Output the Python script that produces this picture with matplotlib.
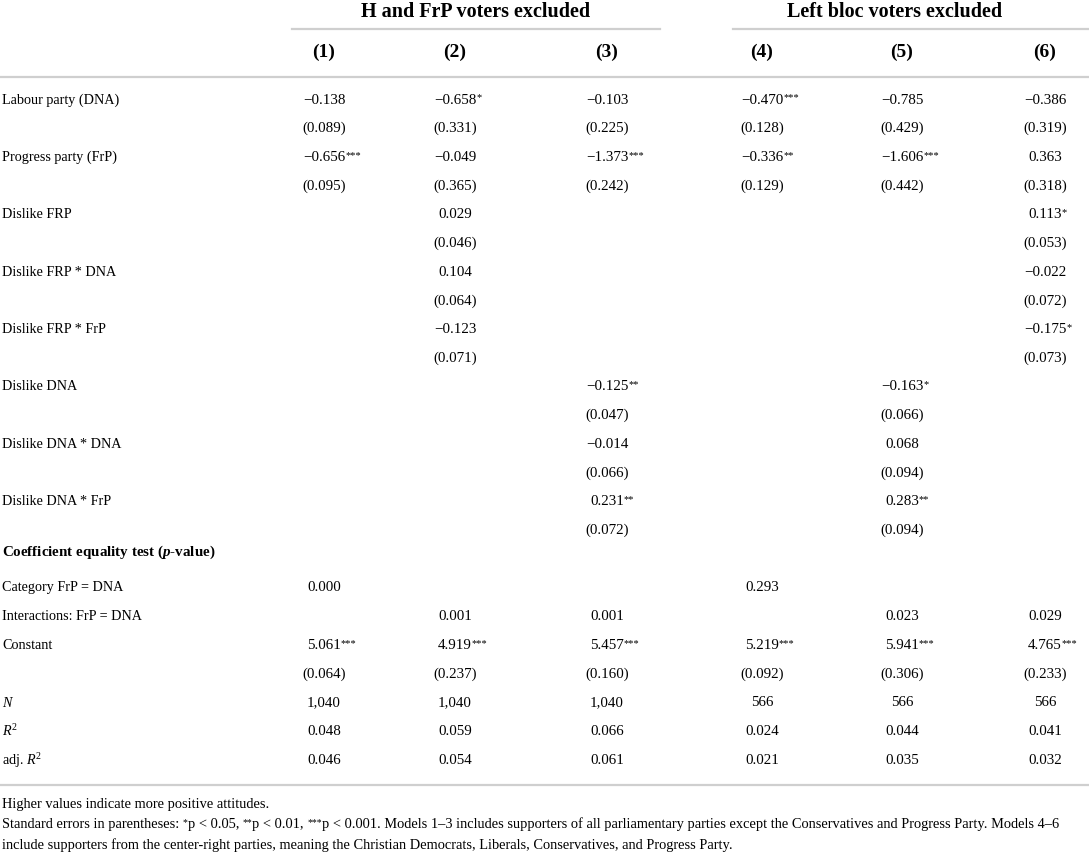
import matplotlib
matplotlib.use("Agg")
import matplotlib.pyplot as plt

plt.rcParams['font.family'] = ['Liberation Serif', 'DejaVu Serif']
plt.rcParams['mathtext.fontset'] = 'custom'
plt.rcParams['mathtext.rm'] = 'Liberation Serif'
plt.rcParams['mathtext.it'] = 'Liberation Serif:italic'
plt.rcParams['mathtext.bf'] = 'Liberation Serif:bold'
plt.rcParams['mathtext.bfit'] = 'Liberation Serif:italic:bold'

group_titles = ["H and FrP voters excluded", "Left bloc voters excluded"]
model_names = ["(1)", "(2)", "(3)", "(4)", "(5)", "(6)"]

coef_labels = ["Labour party (DNA)", "Progress party (FrP)", "Dislike FRP", "Dislike FRP * DNA",
               "Dislike FRP * FrP", "Dislike DNA", "Dislike DNA * DNA", "Dislike DNA * FrP"]
coefs = [
    ["−0.138", "−0.658*", "−0.103", "−0.470***", "−0.785", "−0.386"],
    ["−0.656***", "−0.049", "−1.373***", "−0.336**", "−1.606***", "0.363"],
    ["", "0.029", "", "", "", "0.113*"],
    ["", "0.104", "", "", "", "−0.022"],
    ["", "−0.123", "", "", "", "−0.175*"],
    ["", "", "−0.125**", "", "−0.163*", ""],
    ["", "", "−0.014", "", "0.068", ""],
    ["", "", "0.231**", "", "0.283**", ""],
]
ses = [
    ["(0.089)", "(0.331)", "(0.225)", "(0.128)", "(0.429)", "(0.319)"],
    ["(0.095)", "(0.365)", "(0.242)", "(0.129)", "(0.442)", "(0.318)"],
    ["", "(0.046)", "", "", "", "(0.053)"],
    ["", "(0.064)", "", "", "", "(0.072)"],
    ["", "(0.071)", "", "", "", "(0.073)"],
    ["", "", "(0.047)", "", "(0.066)", ""],
    ["", "", "(0.066)", "", "(0.094)", ""],
    ["", "", "(0.072)", "", "(0.094)", ""],
]

test_title = r"Coefficient equality test ($\mathbfit{p}$-value)"
test_labels = ["Category FrP = DNA", "Interactions: FrP = DNA"]
tests = [
    ["0.000", "", "", "0.293", "", ""],
    ["", "0.001", "0.001", "", "0.023", "0.029"],
]
const = ["5.061***", "4.919***", "5.457***", "5.219***", "5.941***", "4.765***"]
const_se = ["(0.064)", "(0.237)", "(0.160)", "(0.092)", "(0.306)", "(0.233)"]

stat_labels = [r"$\mathit{N}$", r"$\mathit{R}^2$", r"adj. $\mathit{R}^2$"]
stats = [
    ["1,040", "1,040", "1,040", "566", "566", "566"],
    ["0.048", "0.059", "0.066", "0.024", "0.044", "0.041"],
    ["0.046", "0.054", "0.061", "0.021", "0.035", "0.032"],
]

note1 = "Higher values indicate more positive attitudes."
# (text, superscript?) pieces of the second note line
note2 = [("Standard errors in parentheses: ", False), ("*", True), ("p < 0.05, ", False),
         ("**", True), ("p < 0.01, ", False), ("***", True),
         ("p < 0.001. Models 1–3 includes supporters of all parliamentary parties except the "
          "Conservatives and Progress Party. Models 4–6", False)]
note3 = ("include supporters from the center-right parties, meaning the Christian Democrats, "
         "Liberals, Conservatives, and Progress Party.")

W, H = 1089, 853
fig = plt.figure(figsize=(W / 100, H / 100), dpi=100)
ax = fig.add_axes([0, 0, 1, 1])
ax.set_xlim(0, W)
ax.set_ylim(H, 0)
ax.axis('off')

col_x = [324, 455, 607, 762, 902, 1045]
label_x = 2
fs = 10.8      # numbers
lfs = 10.2     # row labels
nfs = 10.4     # notes
line_c = '#cfcfcf'
y0 = 100
step = 28.7


def cell(x, y, s):
    if not s:
        return
    num = s.rstrip('*')
    stars = s[len(num):]
    t = ax.text(x, y, num, ha='center', va='center', fontsize=fs)
    if stars:
        ax.annotate(stars, xy=(1.0, 1.0), xycoords=t, ha='left', va='top', fontsize=7.5)


# header
ax.text(476, 12, group_titles[0], ha='center', va='center', fontsize=14.5, fontweight='bold')
ax.text(895, 12, group_titles[1], ha='center', va='center', fontsize=14.5, fontweight='bold')
ax.plot([292, 660], [30, 30], color=line_c, lw=1.6)
ax.plot([733, 1089], [30, 30], color=line_c, lw=1.6)
for x, m in zip(col_x, model_names):
    ax.text(x, 52, m, ha='center', va='center', fontsize=14, fontweight='bold')
ax.plot([0, W], [78, 78], color=line_c, lw=1.6)

row = 0
for lab, cf, se in zip(coef_labels, coefs, ses):
    y = y0 + row * step
    ax.text(label_x, y, lab, ha='left', va='center', fontsize=lfs)
    for x, s in zip(col_x, cf):
        cell(x, y, s)
    for x, s in zip(col_x, se):
        cell(x, y + step, s)
    row += 2

ax.text(label_x, y0 + row * step - 7, test_title, ha='left', va='center', fontsize=10.8, fontweight='bold')
row += 1
for lab, vals in zip(test_labels, tests):
    y = y0 + row * step
    ax.text(label_x, y, lab, ha='left', va='center', fontsize=lfs)
    for x, s in zip(col_x, vals):
        cell(x, y, s)
    row += 1

y = y0 + row * step
ax.text(label_x, y, "Constant", ha='left', va='center', fontsize=lfs)
for x, s in zip(col_x, const):
    cell(x, y, s)
for x, s in zip(col_x, const_se):
    cell(x, y + step, s)
row += 2

for lab, vals in zip(stat_labels, stats):
    y = y0 + row * step
    ax.text(label_x, y, lab, ha='left', va='center', fontsize=lfs)
    for x, s in zip(col_x, vals):
        cell(x, y, s)
    row += 1

# notes
ax.plot([0, W], [786, 786], color=line_c, lw=1.6)
ax.text(label_x, 805, note1, ha='left', va='center', fontsize=nfs)
prev = ax.text(label_x, 825, note2[0][0], ha='left', va='center', fontsize=nfs)
base = prev
for txt, sup in note2[1:]:
    if sup:
        prev = ax.annotate(txt, xy=(1.0, 1.0), xycoords=(prev, base), ha='left', va='top', fontsize=7)
    else:
        prev = ax.annotate(txt, xy=(1.0, 0.0), xycoords=(prev, base), ha='left', va='bottom', fontsize=nfs)
        base = prev
ax.text(label_x, 845, note3, ha='left', va='center', fontsize=nfs)

fig.savefig("out.png", dpi=100)
